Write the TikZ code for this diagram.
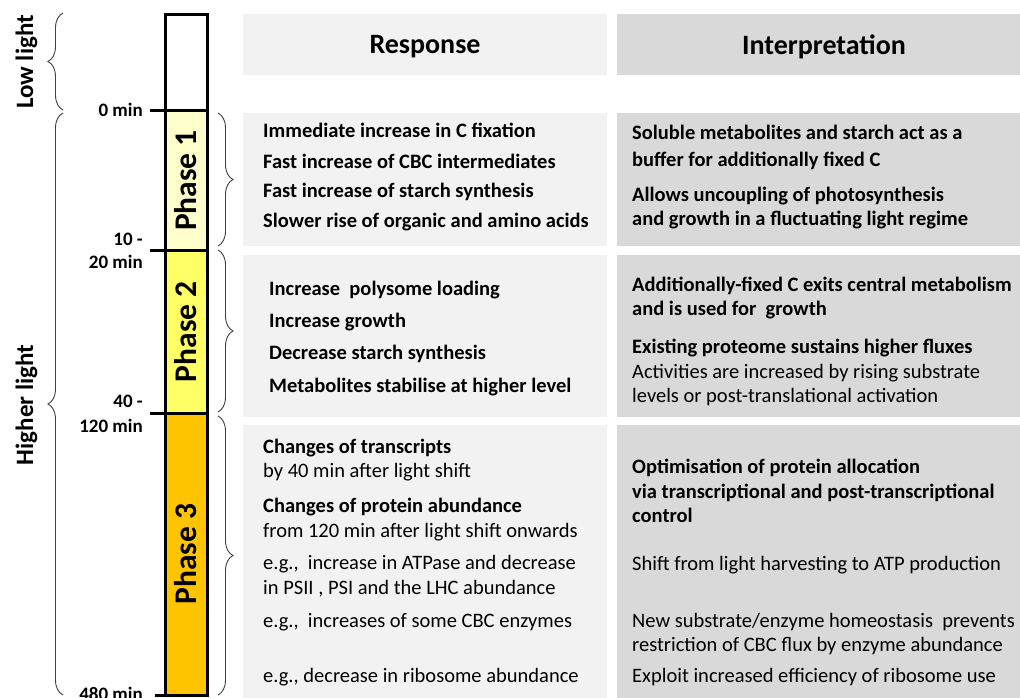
\documentclass[tikz,border=0pt]{standalone}
\usepackage{fontspec}
\setmainfont{Carlito}
\usetikzlibrary{decorations.pathreplacing}
\definecolor{respgray}{HTML}{F2F2F2}
\definecolor{intgray}{HTML}{D9D9D9}
\definecolor{phaseone}{HTML}{FFFFCC}
\definecolor{phasetwo}{HTML}{FFFF66}
\definecolor{phasethree}{HTML}{FFC400}
\tikzset{
  cell/.style={inner sep=0pt, outer sep=0pt, text depth=0pt},
  seg/.style={draw=black, line width=3pt, inner sep=0pt, minimum height=42pt, font=\fontsize{31.5pt}{36pt}\selectfont\bfseries},
  bline/.style={anchor=base west, inner sep=0pt, font=\fontsize{20.5pt}{24pt}\selectfont\bfseries},
  rline/.style={anchor=base west, inner sep=0pt, font=\fontsize{20.5pt}{24pt}\selectfont},
  tlabel/.style={anchor=base east, inner sep=0pt, font=\fontsize{19pt}{23pt}\selectfont\bfseries},
  lightlabel/.style={anchor=base, rotate=90, inner sep=0pt, font=\fontsize{25pt}{29pt}\selectfont\bfseries},
  spanbrace/.style={decorate, decoration={brace, amplitude=15pt}, line width=0.9pt, draw=black!75},
  timetick/.style={line width=3pt}
}
\begin{document}
\begin{tikzpicture}[x=1pt, y=1pt]
\useasboundingbox (0, 0) rectangle (1020, -698);
\fill [white] (0, 0) rectangle (1020, -698);

\node (resphead) at (425, -44.5) [cell, fill=respgray, minimum width=364pt, minimum height=61pt, font=\fontsize{28pt}{32pt}\selectfont\bfseries] {Response};
\node (intphead) at (824, -44.5) [cell, fill=intgray, minimum width=414pt, minimum height=61pt, font=\fontsize{28pt}{32pt}\selectfont\bfseries] {Interpretation};
\node (resp1) at (425, -179.5) [cell, fill=respgray, minimum width=364pt, minimum height=133pt] {};
\node (resp2) at (425, -336) [cell, fill=respgray, minimum width=364pt, minimum height=162pt] {};
\node (resp3) at (425, -562.5) [cell, fill=respgray, minimum width=364pt, minimum height=275pt] {};
\node (intp1) at (824, -179.5) [cell, fill=intgray, minimum width=414pt, minimum height=133pt] {};
\node (intp2) at (824, -336) [cell, fill=intgray, minimum width=414pt, minimum height=162pt] {};
\node (intp3) at (824, -562.5) [cell, fill=intgray, minimum width=414pt, minimum height=275pt] {};

\node (lowseg) at (186, -63) [seg, fill=white, minimum width=42pt, minimum height=96pt] {};
\node (phase1) at (186, -180.5) [seg, rotate=90, fill=phaseone, minimum width=139pt] {Phase 1};
\node (phase2) at (186, -331.75) [seg, rotate=90, fill=phasetwo, minimum width=163.5pt] {Phase 2};
\node (phase3) at (186, -554.25) [seg, rotate=90, fill=phasethree, minimum width=281.5pt] {Phase 3};

\coordinate (tk0) at (150, -111);
\coordinate (tk1) at (150, -250);
\coordinate (tk2) at (150, -413.5);
\coordinate (tk3) at (155, -695);
\draw [timetick] (tk0) -- (tk0 -| lowseg.west);
\draw [timetick] (tk1) -- (tk1 -| lowseg.west);
\draw [timetick] (tk2) -- (tk2 -| lowseg.west);
\draw [timetick] (tk3) -- (tk3 -| lowseg.east);

\node (m0) at (143, -117) [tlabel] {0 min};
\node (m10) at (143, -245) [tlabel] {10 -};
\node (m20) at (143, -268) [tlabel] {20 min};
\node (m40) at (143, -407) [tlabel] {40 -};
\node (m120) at (143, -432) [tlabel] {120 min};
\node (m480) at (143, -700) [tlabel] {480 min};

\coordinate (lowbot) at (63, -110);
\coordinate (lowtop) at (63, -13);
\coordinate (highbot) at (63, -695);
\coordinate (hightop) at (63, -113);
\draw [spanbrace] (lowbot) -- (lowtop);
\draw [spanbrace] (highbot) -- (hightop);
\node (lowlight) at (33, -62) [lightlabel] {Low light};
\node (highlight) at (33, -405) [lightlabel] {Higher light};

\coordinate (br1a) at (218, -113);
\coordinate (br1b) at (218, -246);
\coordinate (br2a) at (218, -250);
\coordinate (br2b) at (218, -412);
\coordinate (br3a) at (218, -416);
\coordinate (br3b) at (218, -695);
\draw [spanbrace] (br1a) -- (br1b);
\draw [spanbrace] (br2a) -- (br2b);
\draw [spanbrace] (br3a) -- (br3b);

\node (r1a) at (263, -138) [bline] {Immediate increase in C fixation};
\node (r1b) at (263, -168) [bline] {Fast increase of CBC intermediates};
\node (r1c) at (263, -197) [bline] {Fast increase of starch synthesis};
\node (r1d) at (263, -227) [bline] {Slower rise of organic and amino acids};
\node (r2a) at (269, -295) [bline] {Increase~ polysome loading};
\node (r2b) at (269, -327) [bline] {Increase growth};
\node (r2c) at (269, -359) [bline] {Decrease starch synthesis};
\node (r2d) at (269, -392) [bline] {Metabolites stabilise at higher level};
\node (r3a) at (263, -453) [bline] {Changes of transcripts};
\node (r3b) at (263, -477) [rline] {by 40 min after light shift};
\node (r3c) at (263, -512) [bline] {Changes of protein abundance};
\node (r3d) at (263, -537) [rline] {from 120 min after light shift onwards};
\node (r3e) at (263, -569) [rline] {e.g.,~ increase in ATPase and decrease};
\node (r3f) at (263, -594) [rline] {in PSII , PSI and the LHC abundance};
\node (r3g) at (263, -627) [rline] {e.g.,~ increases of some CBC enzymes};
\node (r3h) at (263, -682) [rline] {e.g., decrease in ribosome abundance};

\node (i1a) at (632, -140) [bline] {Soluble metabolites and starch act as a};
\node (i1b) at (632, -166) [bline] {buffer for additionally fixed C};
\node (i1c) at (632, -201) [bline] {Allows uncoupling of photosynthesis};
\node (i1d) at (632, -225) [bline] {and growth in a fluctuating light regime};
\node (i2a) at (632, -291) [bline] {Additionally-fixed C exits central metabolism};
\node (i2b) at (632, -315) [bline] {and is used for~ growth};
\node (i2c) at (632, -353) [bline] {Existing proteome sustains higher fluxes};
\node (i2d) at (632, -378) [rline] {Activities are increased by rising substrate};
\node (i2e) at (632, -402) [rline] {levels or post-translational activation};
\node (i3a) at (632, -473) [bline] {Optimisation of protein allocation};
\node (i3b) at (632, -498) [bline] {via transcriptional and post-transcriptional};
\node (i3c) at (632, -522) [bline] {control};
\node (i3d) at (632, -570) [rline] {Shift from light harvesting to ATP production};
\node (i3e) at (632, -627) [rline] {New substrate/enzyme homeostasis~ prevents};
\node (i3f) at (632, -651) [rline] {restriction of CBC flux by enzyme abundance};
\node (i3g) at (632, -682) [rline] {Exploit increased efficiency of ribosome use};
\end{tikzpicture}
\end{document}
